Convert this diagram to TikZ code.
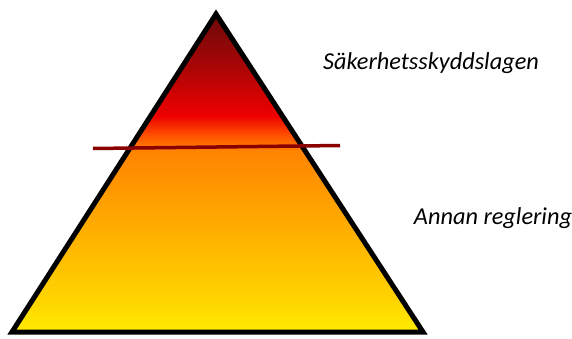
\documentclass[tikz,border=0pt]{standalone}
\usepackage{fontspec}
\setmainfont{Carlito}
\definecolor{cY}{HTML}{FFEC00}
\definecolor{cY2}{HTML}{FFD400}
\definecolor{cO}{HTML}{FF8400}
\definecolor{cO2}{HTML}{FF5000}
\definecolor{cR}{HTML}{EE0000}
\definecolor{cDR}{HTML}{A80505}
\definecolor{cTop}{HTML}{6A0A0A}
\definecolor{lineRed}{HTML}{8A0000}
\pgfdeclareverticalshading{pyr}{100bp}{
  color(0bp)=(cY); color(25bp)=(cY); color(30bp)=(cY2);
  color(53.5bp)=(cO); color(56bp)=(cO2); color(59bp)=(cR);
  color(67bp)=(cDR); color(75bp)=(cTop); color(100bp)=(cTop)}
\tikzset{lbl/.style={font=\itshape\fontsize{24.3}{28}\selectfont, inner sep=0pt}}
\begin{document}
\begin{tikzpicture}[x=1pt,y=1pt]
\useasboundingbox (0,0) rectangle (572,338);
\coordinate (apex) at (216,324);
\coordinate (bl) at (12,6);
\coordinate (br) at (423,6);
\draw[line width=5pt, line join=miter, shading=pyr] (apex) -- (br) -- (bl) -- cycle;
\coordinate (la) at (93,189.5);
\coordinate (lb) at (340,192.5);
\draw[lineRed, line width=3.5pt] (la) -- (lb);
\node[lbl, anchor=base] (t1) at (431,269) {Säkerhetsskyddslagen};
\node[lbl, anchor=base] (t2) at (493,114) {Annan reglering};
\end{tikzpicture}
\end{document}
